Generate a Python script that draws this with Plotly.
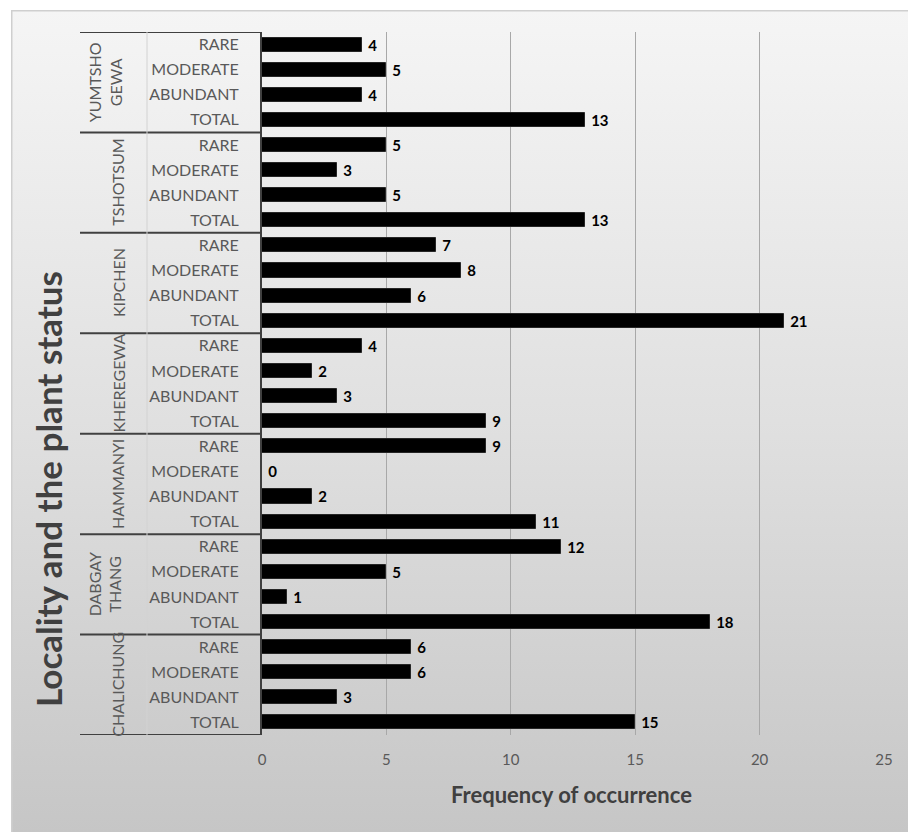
import base64
import plotly.graph_objects as go

# ---- data (top to bottom as displayed) ----
localities = ["YUMTSHO<br>GEWA", "TSHOTSUM", "KIPCHEN", "KHEREGEWA",
              "HAMMANYI", "DABGAY<br>THANG", "CHALICHUNG"]
statuses = ["RARE", "MODERATE", "ABUNDANT", "TOTAL"]
rare = [4, 5, 7, 4, 9, 12, 6]
moderate = [5, 3, 8, 2, 0, 5, 6]
abundant = [4, 5, 6, 3, 2, 1, 3]
total = [13, 13, 21, 9, 11, 18, 15]
x_ticks = [0, 5, 10, 15, 20, 25]

FONT = "Lato"
GREY_TXT = "#595959"
DARK_TXT = "#404040"

# build rows
values, pos, labels = [], [], []
for g in range(len(localities)):
    for s, series in enumerate([rare, moderate, abundant, total]):
        idx = g * len(statuses) + s
        values.append(series[g])
        pos.append(idx)
        labels.append(statuses[s])
n_rows = len(values)

# pixel layout helpers
W, H = 908, 832
L, R, T, B = 262, 24, 32, 97
PW, PH = W - L - R, H - T - B


def px_x(p):
    return (p - L) / PW


def px_y(p):
    return (H - B - p) / PH


fig = go.Figure()
fig.add_trace(go.Bar(
    x=values, y=pos, orientation="h", width=0.56,
    marker=dict(color="#000000", line=dict(color="#262626", width=1)),
    text=["\u00a0" + str(v) for v in values], textposition="outside",
    constraintext="none",
    textfont=dict(family=FONT, size=15, color="#000000", weight="bold"),
    cliponaxis=False, hoverinfo="skip",
))

# background gradient image
svg = (
    '<svg xmlns="http://www.w3.org/2000/svg" width="897" height="822" '
    'viewBox="0 0 897 822" preserveAspectRatio="none">'
    '<defs><linearGradient id="g" x1="0" y1="0" x2="0" y2="1">'
    '<stop offset="0" stop-color="#f5f5f5"/>'
    '<stop offset="0.5" stop-color="#e0e0e0"/>'
    '<stop offset="1" stop-color="#c6c6c6"/></linearGradient></defs>'
    '<rect x="0" y="0" width="897" height="822" fill="url(#g)"/>'
    '<line x1="0" y1="0.5" x2="897" y2="0.5" stroke="#cfcfcf" stroke-width="2"/>'
    '<line x1="0.5" y1="0" x2="0.5" y2="822" stroke="#cfcfcf" stroke-width="2"/>'
    '</svg>'
)
src = "data:image/svg+xml;base64," + base64.b64encode(svg.encode()).decode()
fig.add_layout_image(dict(
    source=src, xref="paper", yref="paper",
    x=px_x(11), y=px_y(10), sizex=(W - 11) / PW, sizey=(H - 10) / PH,
    xanchor="left", yanchor="top", sizing="stretch", layer="below",
))

shapes = []
# group divider lines
for g in range(len(localities) + 1):
    yv = g * len(statuses) - 0.5
    shapes.append(dict(type="line", xref="paper", yref="y",
                       x0=px_x(80), x1=0, y0=yv, y1=yv,
                       line=dict(color="#404040", width=2)))
# faint separator between group labels and status labels
shapes.append(dict(type="line", xref="paper", yref="y",
                   x0=px_x(147), x1=px_x(147), y0=-0.5, y1=n_rows - 0.5,
                   line=dict(color="#d2d2d2", width=1)))

annotations = []
for g, name in enumerate(localities):
    two = "<br>" in name
    annotations.append(dict(
        text=name, xref="paper", yref="y",
        x=px_x(105 if two else 118), y=g * len(statuses) + 1.5,
        textangle=-90, showarrow=False, xanchor="center", yanchor="middle",
        font=dict(family=FONT, size=16, color=GREY_TXT),
    ))
annotations.append(dict(
    text="Locality and the plant status", xref="paper", yref="paper",
    x=px_x(48), y=px_y(489), textangle=-90, showarrow=False,
    xanchor="center", yanchor="middle",
    font=dict(family=FONT, size=35, color=DARK_TXT, weight="bold"),
))
annotations.append(dict(
    text="Frequency of occurrence", xref="paper", yref="paper",
    x=px_x(571), y=px_y(795), showarrow=False,
    xanchor="center", yanchor="middle",
    font=dict(family=FONT, size=22, color=DARK_TXT, weight="bold"),
))

fig.update_layout(
    width=W, height=H,
    margin=dict(l=L, r=R, t=T, b=B),
    paper_bgcolor="#ffffff", plot_bgcolor="rgba(0,0,0,0)",
    showlegend=False, bargap=0,
    shapes=shapes, annotations=annotations,
    xaxis=dict(range=[0, 25], tickvals=x_ticks, showgrid=True,
               gridcolor="#a8a8a8", gridwidth=1, zeroline=False,
               showline=False, ticks="", ticklabelstandoff=14,
               tickfont=dict(family=FONT, size=15, color=GREY_TXT)),
    yaxis=dict(range=[n_rows - 0.5, -0.5], tickvals=pos, ticktext=labels,
               showgrid=False, zeroline=False, showline=True,
               linecolor="#404040", linewidth=2, ticks="",
               ticklabelstandoff=18,
               tickfont=dict(family=FONT, size=16, color=GREY_TXT)),
)

fig.write_html("out.html", config={"displayModeBar": False},
               post_script="document.body.style.margin='0';")
